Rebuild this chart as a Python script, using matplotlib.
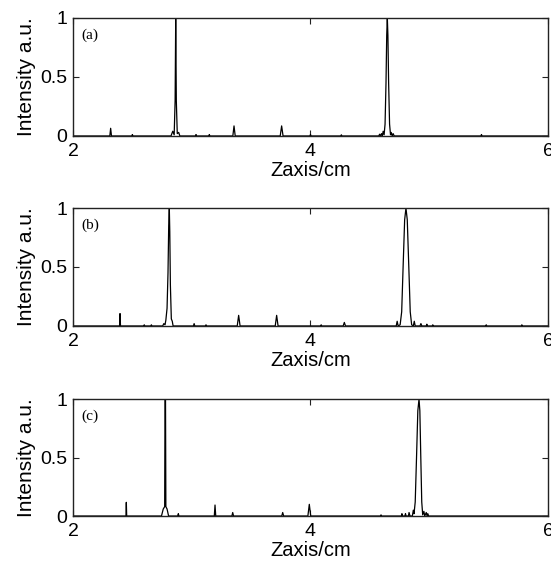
import matplotlib
matplotlib.use("Agg")
import matplotlib.pyplot as plt

# ---- data (vertices) ----
z_a = [2.00,
       2.310, 2.317, 2.324,
       2.495, 2.500, 2.505,
       2.825, 2.840, 2.852, 2.860, 2.865, 2.870, 2.878, 2.890, 2.900,
       3.031, 3.036, 3.041,
       3.143, 3.148, 3.153,
       3.346, 3.356, 3.366,
       3.745, 3.757, 3.769,
       3.995, 4.000, 4.005,
       4.255, 4.260, 4.265,
       4.575, 4.582, 4.590, 4.598, 4.605, 4.612, 4.620, 4.628, 4.636, 4.642,
       4.647, 4.652, 4.658, 4.666, 4.674, 4.680, 4.688, 4.696, 4.705,
       5.435, 5.440, 5.445,
       6.00]
i_a = [0,
       0, 0.065, 0,
       0, 0.012, 0,
       0, 0.04, 0.01, 0.30, 1.0, 0.30, 0.02, 0.03, 0,
       0, 0.012, 0,
       0, 0.012, 0,
       0, 0.085, 0,
       0, 0.085, 0,
       0, 0.012, 0,
       0, 0.010, 0,
       0, 0.015, 0, 0.02, 0, 0.04, 0.01, 0.10, 0.45, 0.85,
       1.0, 0.85, 0.45, 0.10, 0.01, 0.03, 0, 0.02, 0,
       0, 0.012, 0,
       0]

z_b = [2.00,
       2.392, 2.396, 2.400,
       2.595, 2.600, 2.605,
       2.655, 2.660, 2.665,
       2.755, 2.765, 2.775, 2.782, 2.792, 2.800, 2.806, 2.811, 2.815, 2.820,
       2.828, 2.836, 2.843,
       3.014, 3.020, 3.026,
       3.115, 3.120, 3.125,
       3.383, 3.395, 3.407,
       3.703, 3.715, 3.727,
       4.085, 4.090, 4.095,
       4.275, 4.285, 4.295,
       4.722, 4.730, 4.738, 4.755, 4.768, 4.780, 4.793, 4.804, 4.815, 4.828,
       4.840, 4.852, 4.866, 4.874, 4.882,
       4.922, 4.930, 4.938,
       4.975, 4.980, 4.985,
       5.025, 5.030, 5.035,
       5.475, 5.480, 5.485,
       5.775, 5.780, 5.785,
       6.00]
i_b = [0,
       0, 0.105, 0,
       0, 0.010, 0,
       0, 0.010, 0,
       0, 0.02, 0.01, 0.05, 0.15, 0.45, 0.85, 1.0, 0.80, 0.35,
       0.06, 0.04, 0,
       0, 0.02, 0,
       0, 0.01, 0,
       0, 0.09, 0,
       0, 0.09, 0,
       0, 0.01, 0,
       0, 0.03, 0,
       0, 0.04, 0, 0.01, 0.12, 0.50, 0.90, 1.0, 0.90, 0.50,
       0.12, 0.01, 0, 0.04, 0,
       0, 0.02, 0,
       0, 0.015, 0,
       0, 0.01, 0,
       0, 0.01, 0,
       0, 0.01, 0,
       0]

z_c = [2.00,
       2.446, 2.449, 2.452,
       2.745, 2.760, 2.772, 2.775, 2.779, 2.782, 2.792, 2.805,
       2.882, 2.887, 2.892,
       3.190, 3.196, 3.202,
       3.338, 3.345, 3.352,
       3.758, 3.766, 3.774,
       3.978, 3.990, 4.002,
       4.589, 4.594, 4.599,
       4.765, 4.770, 4.775, 4.795, 4.800, 4.805, 4.825, 4.830, 4.838,
       4.858, 4.866, 4.872, 4.882, 4.893, 4.904, 4.914, 4.921, 4.929, 4.937,
       4.945, 4.955, 4.962, 4.975, 4.982, 4.988, 4.995,
       6.00]
i_c = [0,
       0, 0.117, 0,
       0, 0.06, 0.08, 1.0, 1.0, 0.08, 0.06, 0,
       0, 0.02, 0,
       0, 0.094, 0,
       0, 0.03, 0,
       0, 0.03, 0,
       0, 0.10, 0,
       0, 0.01, 0,
       0, 0.02, 0, 0, 0.02, 0, 0, 0.03, 0,
       0, 0.05, 0.02, 0.12, 0.50, 0.90, 1.0, 0.90, 0.50, 0.12,
       0.01, 0.04, 0, 0.03, 0, 0.02, 0,
       0]

panel_labels = ["(a)", "(b)", "(c)"]
x_ticks = [2, 4, 6]
y_ticks = [0, 0.5, 1]
y_ticklabels = ["0", "0.5", "1"]
xlabel = "Zaxis/cm"
ylabel = "Intensity a.u."

series = [(z_a, i_a), (z_b, i_b), (z_c, i_c)]

plt.rcParams['font.family'] = ['Liberation Sans', 'DejaVu Sans']

fig = plt.figure(figsize=(5.51, 5.68), dpi=100)
boxes = [(0.1325, 0.7606, 0.862, 0.2084),
         (0.1325, 0.4261, 0.862, 0.2077),
         (0.1325, 0.0915, 0.862, 0.2060)]

for (zz, ii), lab, box in zip(series, panel_labels, boxes):
    ax = fig.add_axes(box)
    ax.plot(zz, ii, color='black', lw=0.9)
    ax.set_xlim(2, 6)
    ax.set_ylim(0, 1)
    ax.set_xticks(x_ticks)
    ax.set_xticklabels([str(t) for t in x_ticks])
    ax.set_yticks(y_ticks)
    ax.set_yticklabels(y_ticklabels)
    ax.tick_params(direction='in', length=4, width=0.8, labelsize=14,
                   top=True, right=True, colors='#222222', labelcolor='black')
    ax.tick_params(axis='x', pad=5)
    ax.tick_params(axis='y', pad=4)
    for s in ax.spines.values():
        s.set_linewidth(1.0)
        s.set_color('#222222')
    ax.set_xlabel(xlabel, fontsize=14.5, labelpad=1)
    ax.set_ylabel(ylabel, fontsize=15, labelpad=3)
    ax.text(2.07, 0.85, lab, fontsize=11, family=['Liberation Serif', 'DejaVu Serif'],
            va='center', ha='left')

fig.savefig("out.png", dpi=100)
